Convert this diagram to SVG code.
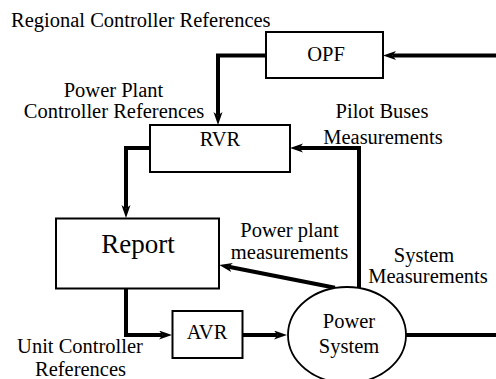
<svg xmlns="http://www.w3.org/2000/svg" width="496" height="379" viewBox="0 0 496 379" font-family="'Liberation Serif', 'Times New Roman', 'DejaVu Serif', serif">
<style>
text{font-family:'Liberation Serif','Times New Roman','DejaVu Serif',serif;font-size:20.5px;fill:#000}
.c{text-anchor:middle}
.big{font-size:27px}
.box{fill:#fff;stroke:#000;stroke-width:2}
.conn{fill:none;stroke:#000;stroke-width:4;stroke-linejoin:miter}
.arr{marker-end:url(#ah)}
</style>
<defs>
<marker id="ah" markerUnits="userSpaceOnUse" markerWidth="14" markerHeight="10" refX="3.5" refY="4.5" orient="auto" viewBox="0 0 14 10">
<path d="M0,0 L13,4.5 L0,9 L3.5,4.5 z" fill="#000"/>
</marker>
</defs>
<rect width="496" height="379" fill="#fff"/>
<g id="connectors">
<path class="conn arr" d="M496,55.5 H392.5"/>
<path class="conn arr" d="M266,55.5 H218 V115.5"/>
<path class="conn arr" d="M150,148 H126 V208.5"/>
<path class="conn arr" d="M359,288 V148 H299.5"/>
<path class="conn arr" d="M335,287.7 L228.6,266.8"/>
<path class="conn arr" d="M126,288 V335 H162.5"/>
<path class="conn arr" d="M242,335 H277.5"/>
<path class="conn" d="M406,335 H496"/>
</g>
<g id="labels">
<text x="11" y="27" font-family="'Liberation Serif', serif">Regional Controller References</text>
<text class="c" x="113.5" y="97" font-family="'Liberation Serif', serif">Power Plant</text>
<text class="c" x="114" y="118" font-family="'Liberation Serif', serif">Controller References</text>
<text class="c" x="382" y="118" font-family="'Liberation Serif', serif">Pilot Buses</text>
<text class="c" x="383" y="144" font-family="'Liberation Serif', serif">Measurements</text>
<text class="c" x="289.5" y="237" font-family="'Liberation Serif', serif">Power plant</text>
<text class="c" x="289.5" y="259" font-family="'Liberation Serif', serif">measurements</text>
<text class="c" x="424" y="262" font-family="'Liberation Serif', serif">System</text>
<text class="c" x="428" y="283" font-family="'Liberation Serif', serif">Measurements</text>
<text class="c" x="80" y="353" font-family="'Liberation Serif', serif">Unit Controller</text>
<text class="c" x="80.5" y="376" font-family="'Liberation Serif', serif">References</text>
</g>
<g id="opf">
<rect class="box" x="266" y="32" width="117" height="46"/>
<text class="c" x="326" y="61" font-family="'Liberation Serif', serif">OPF</text>
</g>
<g id="rvr">
<rect class="box" x="150" y="125" width="140" height="47"/>
<text class="c" x="220" y="146" font-family="'Liberation Serif', serif">RVR</text>
</g>
<g id="report">
<rect class="box" x="56" y="218.5" width="163" height="70"/>
<text class="c big" x="138" y="253" font-family="'Liberation Serif', serif">Report</text>
</g>
<g id="avr">
<rect class="box" x="172.5" y="311" width="70" height="47"/>
<text class="c" x="207" y="339" font-family="'Liberation Serif', serif">AVR</text>
</g>
<g id="power-system">
<ellipse cx="347" cy="335" rx="59" ry="48" fill="#fff" stroke="#000" stroke-width="1.8"/>
<text class="c" x="349" y="328" font-family="'Liberation Serif', serif">Power</text>
<text class="c" x="349" y="353" font-family="'Liberation Serif', serif">System</text>
</g>
</svg>
